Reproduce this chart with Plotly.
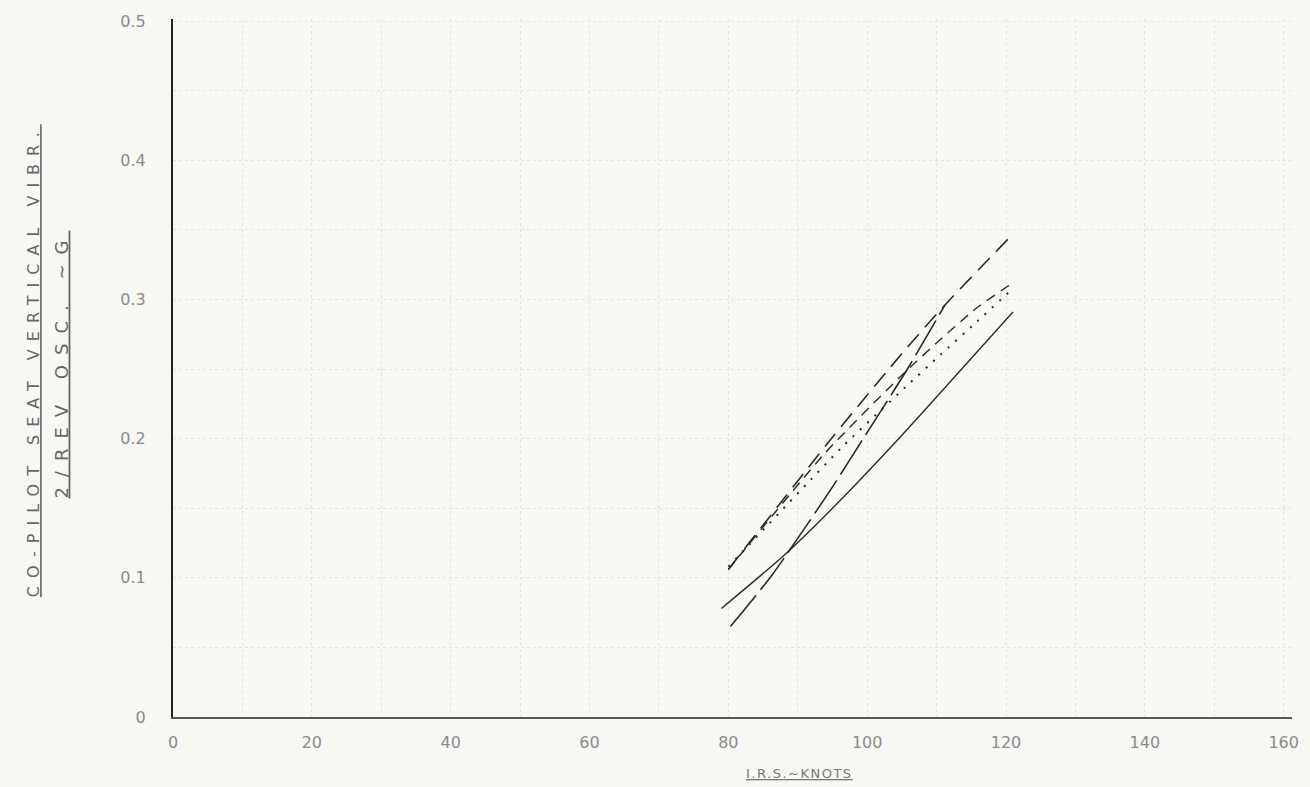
import plotly.graph_objects as go

# Speed (knots) and vibration (g) for each test curve
solid_x = [79, 88, 96, 104, 112, 121]
solid_y = [0.078, 0.116, 0.155, 0.197, 0.241, 0.291]

steep_x = [80.3, 86.3, 94.7, 99.3, 105.8, 111.2]
steep_y = [0.065, 0.102, 0.163, 0.199, 0.250, 0.296]

upper_x = [80, 95, 105.5, 111.2, 121]
upper_y = [0.106, 0.201, 0.264, 0.296, 0.347]

dashed_x = [80, 94, 105.5, 110.5, 115.8, 121.3]
dashed_y = [0.106, 0.190, 0.248, 0.271, 0.294, 0.313]

dotted_x = [80, 91.4, 96.4, 105.5, 110.5, 115.8, 120.8]
dotted_y = [0.108, 0.168, 0.194, 0.237, 0.260, 0.284, 0.307]

x_ticks = [0, 20, 40, 60, 80, 100, 120, 140, 160]
y_ticks = [0, 0.1, 0.2, 0.3, 0.4, 0.5]
y_tick_text = ["0", "0.1", "0.2", "0.3", "0.4", "0.5"]

INK = "#2b2b2b"
PENCIL = "#8a8a8a"
GRID = "#e3e3e0"

series = [
    (solid_x, solid_y, "solid", 1.4),
    (steep_x, steep_y, "40px,7px", 1.6),
    (upper_x, upper_y, "17px,9px", 1.6),
    (dashed_x, dashed_y, "10px,7px", 1.4),
    (dotted_x, dotted_y, "2px,8px", 2.0),
]

fig = go.Figure()
for xs, ys, dash, w in series:
    fig.add_trace(go.Scatter(
        x=xs, y=ys, mode="lines",
        line=dict(color=INK, width=w, dash=dash, shape="spline", smoothing=0.6),
        showlegend=False, hoverinfo="skip",
    ))

tick_font = dict(family="DejaVu Sans", size=16, color=PENCIL)

fig.update_layout(
    width=1310, height=787,
    margin=dict(l=173, r=18, t=19, b=70),
    paper_bgcolor="#f7f7f4",
    plot_bgcolor="#f7f7f4",
    showlegend=False,
    xaxis=dict(
        range=[0, 161.2],
        tickvals=x_ticks, ticktext=[str(v) for v in x_ticks],
        tickfont=tick_font, ticks="", ticklabelstandoff=10,
        showgrid=True, gridcolor=GRID, gridwidth=1, griddash="dot",
        minor=dict(dtick=10, showgrid=True, gridcolor=GRID, gridwidth=1, griddash="dot"),
        zeroline=False,
        showline=True, linecolor="#555555", linewidth=1.5,
    ),
    yaxis=dict(
        range=[0, 0.5015],
        tickvals=y_ticks, ticktext=y_tick_text,
        tickfont=tick_font, ticks="", ticklabelstandoff=22,
        showgrid=True, gridcolor=GRID, gridwidth=1, griddash="dot",
        minor=dict(dtick=0.05, showgrid=True, gridcolor=GRID, gridwidth=1, griddash="dot"),
        zeroline=False,
        showline=True, linecolor="#222222", linewidth=2,
    ),
)

fig.add_annotation(
    text='<span style="letter-spacing:8px">CO-PILOT SEAT VERTICAL VIBR.</span>',
    xref="paper", yref="paper", x=-0.125, y=0.51,
    textangle=-90, showarrow=False,
    font=dict(family="DejaVu Sans", size=16, color="#666666", lineposition="under"),
    xanchor="center", yanchor="middle",
)
fig.add_annotation(
    text='<span style="letter-spacing:10px">2/REV OSC. ~G</span>',
    xref="paper", yref="paper", x=-0.1, y=0.505,
    textangle=-90, showarrow=False,
    font=dict(family="DejaVu Sans", size=18, color="#666666", lineposition="under"),
    xanchor="center", yanchor="middle",
)
fig.add_annotation(
    text='<span style="letter-spacing:1.5px">I.R.S.~KNOTS</span>',
    xref="paper", yref="paper", x=0.56, y=-0.081,
    showarrow=False,
    font=dict(family="DejaVu Sans", size=13, color="#777777", lineposition="under"),
    xanchor="center", yanchor="middle",
)

fig.write_html("out.html")
